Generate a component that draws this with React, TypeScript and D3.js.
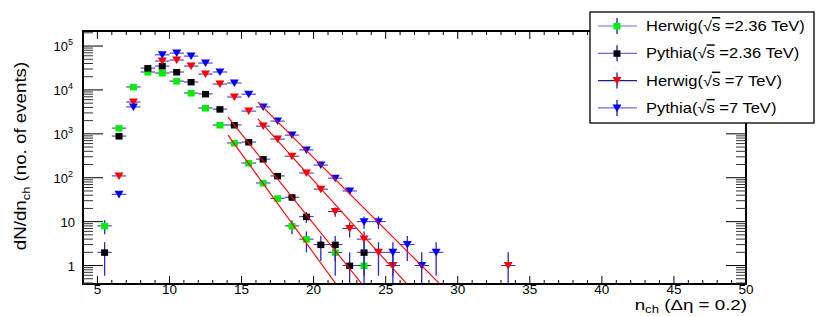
import * as d3 from "d3";
import React from "react";

// bin centres (n_ch) and event counts
const herwig236X = [5.5, 6.5, 7.5, 8.5, 9.5, 10.5, 11.5, 12.5, 13.5, 14.5, 15.5, 16.5, 17.5, 18.5, 19.5, 21.5, 23.5];
const herwig236N = [8, 1350, 11700, 25600, 24300, 15900, 8500, 3880, 1590, 620, 216, 76, 34, 8, 4, 2, 1];

const pythia236X = [5.5, 6.5, 8.5, 9.5, 10.5, 11.5, 12.5, 13.5, 14.5, 15.5, 16.5, 17.5, 18.5, 19.5, 20.5, 21.5, 22.5, 23.5];
const pythia236N = [2, 890, 31500, 35000, 25600, 15200, 8100, 3650, 1590, 650, 266, 110, 36, 13, 3, 3, 1, 2];

const herwig7X = [6.5, 7.5, 9.5, 10.5, 11.5, 12.5, 13.5, 14.5, 15.5, 16.5, 17.5, 18.5, 19.5, 20.5, 21.5, 22.5, 23.5, 24.5, 25.5, 33.5];
const herwig7N = [110, 5300, 45500, 48000, 35000, 23000, 13600, 6900, 3300, 1500, 760, 310, 128, 55, 17, 7, 4, 2, 1, 1];

const pythia7X = [6.5, 7.5, 9.5, 10.5, 11.5, 12.5, 13.5, 14.5, 15.5, 16.5, 17.5, 18.5, 19.5, 20.5, 21.5, 22.5, 23.5, 24.5, 25.5, 26.5, 27.5, 28.5];
const pythia7N = [42, 4100, 63000, 69000, 59000, 41000, 25600, 14400, 8000, 4100, 1950, 935, 430, 194, 98, 50, 10, 10, 2, 3, 1, 2];

const seriesNames = ["Herwig", "Pythia", "Herwig", "Pythia"];
const seriesEnergy = ["2.36 TeV", "2.36 TeV", "7 TeV", "7 TeV"];

// exponential fits: start of range, value at start, log10 slope per unit n_ch
const fitFrom = [14.06, 14.06, 16.14, 16.14];
const fitStartValue = [935, 2400, 2190, 5250];
const fitSlope = [-0.4526, -0.409, -0.364, -0.328];

const xTicks = [5, 10, 15, 20, 25, 30, 35, 40, 45, 50];
const yTicks = [1, 10, 100, 1000, 10000, 100000];

const W = 830;
const H = 316;
const left = 83, right = 746, top = 31, bottom = 284;
const font = "'Liberation Sans', Arial, Helvetica, sans-serif";

const xScale = d3.scaleLinear().domain([4, 50]).range([left, right]);
const yScale = d3.scaleLog().domain([0.38, 2.2e5]).range([bottom, top]);

const series = [
  { xs: herwig236X, ns: herwig236N, color: "#00ee00", shape: "square", leg: "#6a6ae0" },
  { xs: pythia236X, ns: pythia236N, color: "#000000", shape: "square", leg: "#6a6ae0" },
  { xs: herwig7X, ns: herwig7N, color: "#ff0000", shape: "tri", leg: "#1c1c8c" },
  { xs: pythia7X, ns: pythia7N, color: "#0000ff", shape: "tri", leg: "#6a6ae0" },
];

function Marker({ x, y, color, shape }) {
  if (shape === "square") {
    return <rect x={x - 3.5} y={y - 3} width={7} height={6.5} fill={color} />;
  }
  const p = d3.path();
  p.moveTo(x - 4.5, y - 3.5);
  p.lineTo(x + 4.5, y - 3.5);
  p.lineTo(x, y + 4);
  p.closePath();
  return <path d={p.toString()} fill={color} />;
}

function App() {
  const errColor = "#2a2ab8";
  const line = d3.line().x(d => xScale(d[0])).y(d => yScale(d[1]));

  const xMinor = d3.range(4, 51, 1);
  const yMinor = [];
  for (let e = -1; e <= 5; e++) {
    for (let k = 2; k <= 9; k++) {
      const v = k * Math.pow(10, e);
      if (v > 0.38 && v < 2.2e5) yMinor.push(v);
    }
  }

  return (
    <svg width={W} height={H} style={{ position: "absolute", left: 0, top: 0, display: "block", background: "#fff" }}
      fontFamily={font}>
      <defs>
        <clipPath id="frame">
          <rect x={left} y={top} width={right - left} height={bottom - top} />
        </clipPath>
      </defs>

      {/* data */}
      <g clipPath="url(#frame)">
        {series.map((s, si) => (
          <g key={si}>
            {s.xs.map((x, i) => {
              const n = s.ns[i];
              const e = Math.sqrt(n);
              const lo = n - e > 0.01 ? yScale(n - e) : bottom + 5;
              const cx = xScale(x), cy = yScale(n);
              return (
                <g key={i}>
                  <line x1={xScale(x - 0.5)} x2={xScale(x + 0.5)} y1={cy} y2={cy} stroke={errColor} strokeWidth={1} />
                  <line x1={cx} x2={cx} y1={yScale(n + e)} y2={lo} stroke={errColor} strokeWidth={1.3} />
                  <Marker x={cx} y={cy} color={s.color} shape={s.shape} />
                </g>
              );
            })}
          </g>
        ))}
        {fitFrom.map((x0, i) => {
          const x1 = 40;
          const v1 = fitStartValue[i] * Math.pow(10, fitSlope[i] * (x1 - x0));
          return <path key={i} d={line([[x0, fitStartValue[i]], [x1, v1]])} stroke="#ff0000" strokeWidth={1.1} fill="none" />;
        })}
      </g>

      {/* frame */}
      <rect x={left} y={top} width={right - left} height={bottom - top} fill="none" stroke="#000" strokeWidth={2} />

      {/* x ticks bottom and top */}
      {xMinor.map(v => {
        const major = v % 5 === 0;
        const L = major ? 8 : 4;
        return (
          <g key={v} stroke="#000" strokeWidth={1}>
            <line x1={xScale(v)} x2={xScale(v)} y1={bottom} y2={bottom - L} />
            <line x1={xScale(v)} x2={xScale(v)} y1={top} y2={top + L} />
          </g>
        );
      })}
      {xTicks.map(v => (
        <text key={v} x={xScale(v)} y={293.5} textAnchor="middle" fontSize={13.5}>{v}</text>
      ))}

      {/* y ticks left and right */}
      {yTicks.map(v => (
        <g key={v} stroke="#000" strokeWidth={1}>
          <line x1={left} x2={left + 20} y1={yScale(v)} y2={yScale(v)} />
          <line x1={right} x2={right - 20} y1={yScale(v)} y2={yScale(v)} />
        </g>
      ))}
      {yMinor.map(v => (
        <g key={v} stroke="#333" strokeWidth={1}>
          <line x1={left} x2={left + 10} y1={yScale(v)} y2={yScale(v)} />
          <line x1={right} x2={right - 10} y1={yScale(v)} y2={yScale(v)} />
        </g>
      ))}
      {yTicks.map(v => {
        const e = Math.round(Math.log10(v));
        const y = yScale(v) + 5;
        if (e === 0) return <text key={v} x={75} y={y} textAnchor="end" fontSize={13}>1</text>;
        if (e === 1) return <text key={v} x={75} y={y} textAnchor="end" fontSize={13}>10</text>;
        return (
          <text key={v} x={73} y={y} textAnchor="end" fontSize={13}>
            10<tspan fontSize={9} dy={-6}>{e}</tspan>
          </text>
        );
      })}

      {/* axis titles */}
      <text transform="translate(26,156) rotate(-90) scale(1.17,1)" textAnchor="middle" fontSize={16}>
        dN/dn<tspan fontSize={11} dy={4}>ch</tspan><tspan dy={-4}>{"  (no. of events)"}</tspan>
      </text>
      <text transform="translate(747,310) scale(1.25,1)" textAnchor="end" fontSize={15}>
        n<tspan fontSize={10.5} dy={3}>ch</tspan><tspan dy={-3}>{" (\u0394\u03b7 = 0.2)"}</tspan>
      </text>

      {/* legend */}
      <rect x={590} y={12} width={224} height={111} fill="#fff" stroke="#000" strokeWidth={1.3} />
      {series.map((s, i) => {
        const ly = 26 + i * 27.3;
        return (
          <g key={i}>
            <line x1={598} x2={637} y1={ly} y2={ly} stroke={s.leg} strokeWidth={1.2} />
            <line x1={617} x2={617} y1={ly - 8} y2={ly + 8} stroke="#1c1c9c" strokeWidth={1.3} />
            <Marker x={617} y={ly} color={s.color} shape={s.shape} />
            <text transform={`translate(646,${ly + 5}) scale(1.14,1)`} fontSize={14.5}>
              {seriesNames[i]}(&#8730;<tspan style={{ textDecoration: "overline" }}>s</tspan>{" =" + seriesEnergy[i] + ")"}
            </text>
          </g>
        );
      })}
    </svg>
  );
}

export default App;
